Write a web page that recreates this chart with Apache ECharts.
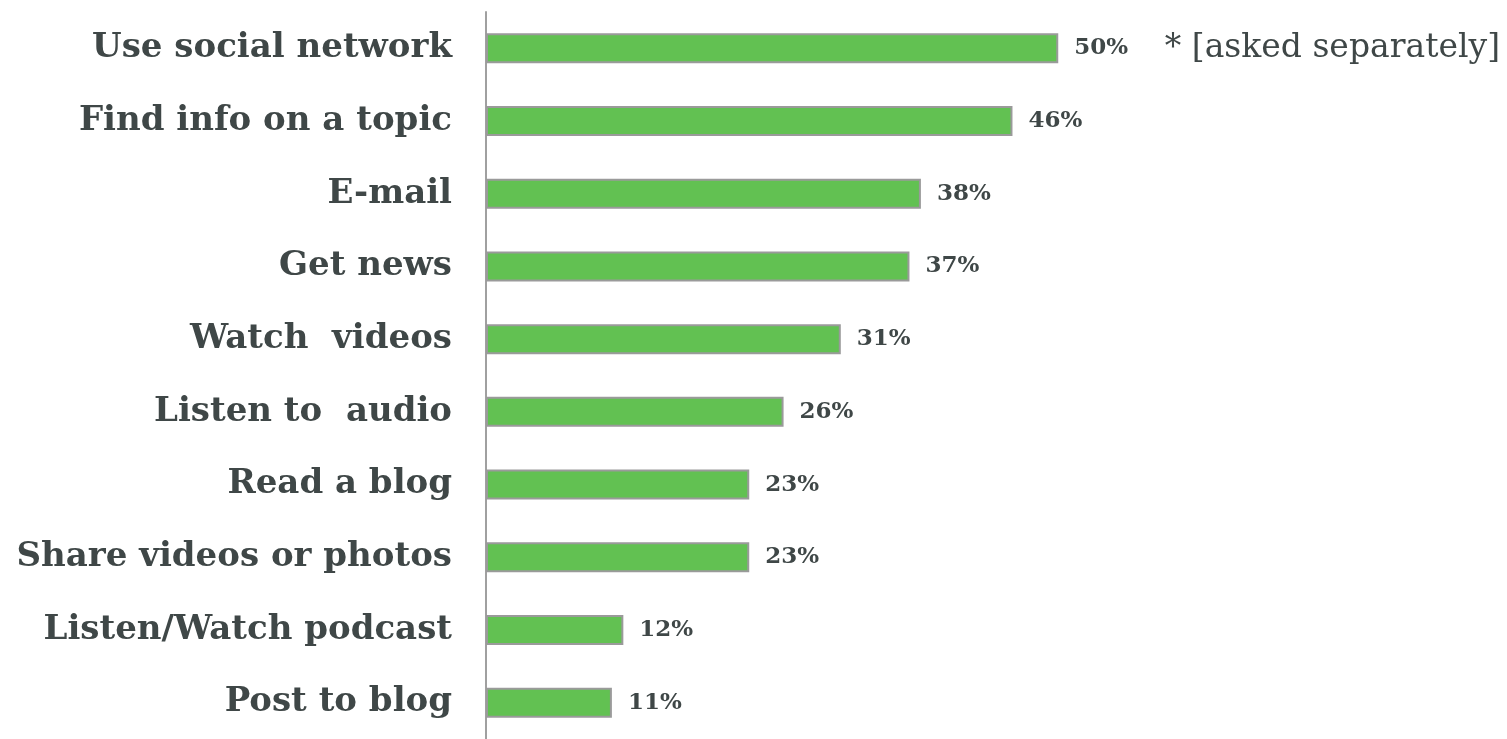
<!DOCTYPE html>
<html>
<head>
<meta charset="utf-8">
<style>
  html, body { margin: 0; padding: 0; background: #ffffff; }
  #chart { width: 1507px; height: 739px; }
</style>
<script src="https://cdn.jsdelivr.net/npm/echarts@6/dist/echarts.min.js"></script>
</head>
<body>
<div id="chart"></div>
<script>
// Online activities, share of respondents (%), listed top to bottom
const activities = [
  'Use social network',
  'Find info on a topic',
  'E-mail',
  'Get news',
  'Watch  videos',
  'Listen to  audio',
  'Read a blog',
  'Share videos or photos',
  'Listen/Watch podcast',
  'Post to blog'
];
const shares = [50, 46, 38, 37, 31, 26, 23, 23, 12, 11];
const footnote = '* [asked separately]';

const TEXT = '#3f4747';
const SERIF = '"DejaVu Serif", Georgia, "Liberation Serif", serif';

const chart = echarts.init(document.getElementById('chart'), null, { renderer: 'canvas' });

chart.setOption({
  backgroundColor: '#ffffff',
  animation: false,
  grid: { left: 486, top: 12, width: 915.6, height: 733 },
  xAxis: {
    type: 'value',
    min: 0,
    max: 80,
    show: false
  },
  yAxis: {
    type: 'category',
    inverse: true,
    data: activities,
    axisLine: { show: true, lineStyle: { color: '#a0a0a0', width: 2 } },
    axisTick: { show: false },
    axisLabel: {
      margin: 34,
      color: TEXT,
      fontFamily: SERIF,
      fontWeight: 'bold',
      fontSize: 34
    }
  },
  series: [{
    type: 'bar',
    data: shares,
    barWidth: 30,
    itemStyle: {
      color: '#62c152',
      borderColor: '#9a9a9a',
      borderWidth: 2
    },
    label: {
      show: true,
      position: 'right',
      distance: 16,
      formatter: '{c}%',
      color: TEXT,
      fontFamily: SERIF,
      fontWeight: 'bold',
      fontSize: 23
    }
  }],
  graphic: [{
    type: 'text',
    x: 1500,
    y: 48,
    style: {
      text: footnote,
      fill: TEXT,
      font: '33px ' + SERIF,
      align: 'right',
      verticalAlign: 'middle'
    }
  }]
});
</script>
</body>
</html>
